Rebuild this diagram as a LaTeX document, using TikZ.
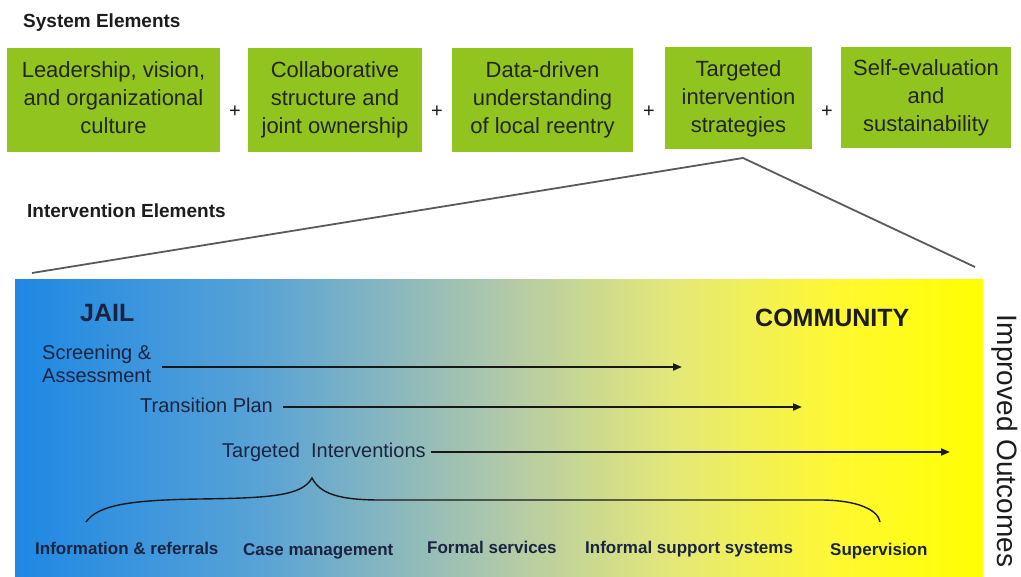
\documentclass[tikz,border=0pt]{standalone}
\usepackage{fontspec}
\setmainfont{Liberation Sans}
\usetikzlibrary{arrows.meta}
\definecolor{boxgreen}{RGB}{146,196,32}
\definecolor{boxtext}{RGB}{34,38,30}
\definecolor{darktxt}{RGB}{28,28,28}
\definecolor{navytxt}{RGB}{26,36,64}
\definecolor{funnel}{RGB}{90,90,90}
\definecolor{arrowcol}{RGB}{24,24,24}
\definecolor{gc0}{RGB}{30,136,228}
\definecolor{gc1}{RGB}{88,162,214}
\definecolor{gc2}{RGB}{175,200,170}
\definecolor{gc3}{RGB}{228,232,120}
\definecolor{gc4}{RGB}{255,248,50}
\definecolor{gc5}{RGB}{255,255,0}
\pgfdeclarehorizontalshading{jailcomm}{100bp}{color(0bp)=(gc0); color(25bp)=(gc0); color(37.5bp)=(gc1); color(50bp)=(gc2); color(59bp)=(gc3); color(67.5bp)=(gc4); color(75bp)=(gc5); color(100bp)=(gc5)}
\tikzset{
  sbox/.style={fill=boxgreen, text=boxtext, align=center, inner sep=0pt,
    font=\fontsize{22pt}{28pt}\selectfont},
  plus/.style={text=darktxt, inner sep=0pt, font=\fontsize{20pt}{24pt}\selectfont},
  title/.style={text=darktxt, inner sep=0pt, anchor=base west, font=\fontsize{19pt}{23pt}\selectfont\bfseries},
  zone/.style={inner sep=0pt, anchor=base west, font=\fontsize{25pt}{30pt}\selectfont\bfseries},
  steplabel/.style={text=navytxt, inner sep=0pt, align=left, font=\fontsize{20pt}{23pt}\selectfont},
  itemlabel/.style={text=navytxt, inner sep=0pt, anchor=base west, font=\fontsize{17pt}{20pt}\selectfont\bfseries},
  arr/.style={draw=arrowcol, line width=2pt, -{Triangle[length=9pt,width=7pt]}},
  funnelline/.style={draw=funnel, line width=1.8pt},
  bracecurve/.style={draw=arrowcol, line width=1.4pt}
}
\begin{document}
\begin{tikzpicture}[x=1pt,y=-1pt]
\useasboundingbox (0,0) rectangle (1021,577);
% titles
\node[title] (systitle) at (23,28) {System Elements};
\node[title] (inttitle) at (27,218) {Intervention Elements};
% system element boxes
\node[sbox, minimum width=213pt, minimum height=104pt, text depth=4pt] (b1) at (113.5,100) {Leadership, vision,\\and organizational\\culture};
\node[sbox, minimum width=174pt, minimum height=104pt, text depth=4pt] (b2) at (335,100) {Collaborative\\structure and\\joint ownership};
\node[sbox, minimum width=181pt, minimum height=104pt, text depth=4pt] (b3) at (542.5,100) {Data-driven\\understanding\\of local reentry};
\node[sbox, minimum width=147pt, minimum height=102pt, text depth=4pt] (b4) at (738.5,98.5) {Targeted\\intervention\\strategies};
\node[sbox, minimum width=170pt, minimum height=101pt, text depth=4pt] (b5) at (926,97.5) {Self-evaluation\\and\\sustainability};
\node[plus] (p1) at (235,112) {+};
\node[plus] (p2) at (437,112) {+};
\node[plus] (p3) at (649,112) {+};
\node[plus] (p4) at (827,112) {+};
% funnel
\coordinate (apex) at (743,158);
\coordinate (lend) at (32,273);
\coordinate (rend) at (975,267);
\draw[funnelline] (lend) -- (apex) -- (rend);
% gradient panel
\fill[shading=jailcomm] (15,280) rectangle (983,577);
% zone labels
\node[zone, text=navytxt] (jail) at (80,322) {JAIL};
\node[zone, text=darktxt] (comm) at (755,327) {COMMUNITY};
% steps
\node[steplabel, anchor=north west] (screen) at (42,345) {Screening \&\\Assessment};
\node[steplabel, anchor=base west] (trans) at (140,413) {Transition Plan};
\node[steplabel, anchor=base west] (targ) at (222,457) {Targeted\ \ Interventions};
\coordinate (e1) at (682,367);
\coordinate (e2) at (802,407);
\coordinate (e3) at (950,452);
\draw[arr] ([xshift=11pt]screen.east |- e1) -- (e1);
\draw[arr] ([xshift=10pt]trans.east |- e2) -- (e2);
\draw[arr] ([xshift=5pt]targ.east |- e3) -- (e3);
% brace
\coordinate (bl) at (86,522);
\coordinate (bt) at (312,478);
\coordinate (br) at (880,522);
\draw[bracecurve] (bl) .. controls (98,505) and (130,500) .. (200,499)
  .. controls (270,498) and (302,496) .. (bt)
  .. controls (320,494) and (340,500) .. (380,500)
  -- (820,500) .. controls (858,500) and (878,510) .. (br);
% items
\node[itemlabel] (i1) at (35,554) {Information \& referrals};
\node[itemlabel] (i2) at (243,555) {Case management};
\node[itemlabel] (i3) at (427,553) {Formal services};
\node[itemlabel] (i4) at (585,553) {Informal support systems};
\node[itemlabel] (i5) at (830,555) {Supervision};
% outcome
\node[text=darktxt, inner sep=0pt, rotate=-90, font=\fontsize{28pt}{32pt}\selectfont] (outc) at (1005,441) {Improved Outcomes};
\end{tikzpicture}
\end{document}
